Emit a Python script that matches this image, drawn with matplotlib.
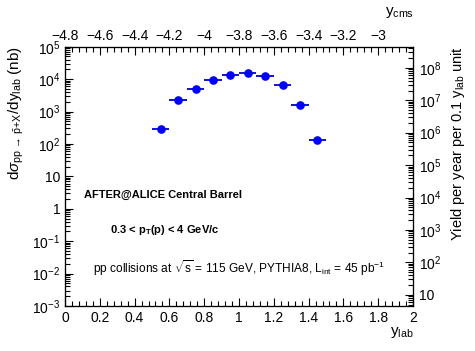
import matplotlib
matplotlib.use("Agg")
import matplotlib.pyplot as plt
from matplotlib.ticker import FixedLocator, MultipleLocator, FuncFormatter, NullFormatter
import numpy as np

plt.rcParams['font.family'] = ['Liberation Sans', 'DejaVu Sans']
plt.rcParams['mathtext.fontset'] = 'custom'
plt.rcParams['mathtext.rm'] = 'Liberation Sans'
plt.rcParams['mathtext.it'] = 'Liberation Sans:italic'
plt.rcParams['mathtext.bf'] = 'Liberation Sans:bold'
plt.rcParams['axes.unicode_minus'] = True

# data
y_lab = [0.55, 0.65, 0.75, 0.85, 0.95, 1.05, 1.15, 1.25, 1.35, 1.45]
dsigma = [280, 2200, 4800, 9400, 13000, 15000, 12800, 6500, 1600, 130]
bin_half = [0.05] * 10

y_shift = 4.8            # y_cms = y_lab - 4.8
lumi_factor = 4500.0     # 45 pb^-1 * 0.1 y_lab unit, in nb^-1

fig = plt.figure(figsize=(4.75, 3.51), dpi=100)
ax = fig.add_axes([65 / 475, 1 - 306 / 351, (413 - 65) / 475, (306 - 46.7) / 351])

ax.errorbar(y_lab, dsigma, xerr=bin_half, fmt='o', color='#0000ff', ecolor='#0000cc',
            markersize=5.2, elinewidth=1.3, capsize=0)
ax.set_yscale('log')
ax.set_xlim(0, 2)
ax.set_ylim(1e-3, 1e5)


def log_fmt(v, pos):
    n = int(round(np.log10(v)))
    if n == 0:
        return '1'
    if n == 1:
        return '10'
    return r'$10^{%d}$' % n


def log_minors(lo, hi):
    return [m * 10.0 ** e for e in range(lo, hi) for m in range(2, 10)]


tick_kw = dict(direction='in', labelsize=10)
ax.xaxis.set_major_locator(MultipleLocator(0.2))
ax.xaxis.set_minor_locator(MultipleLocator(0.04))
ax.xaxis.set_major_formatter(FuncFormatter(lambda v, p: ('%g' % round(v, 2))))
ax.yaxis.set_major_locator(FixedLocator([10.0 ** e for e in range(-3, 6)]))
ax.yaxis.set_minor_locator(FixedLocator(log_minors(-3, 5)))
ax.yaxis.set_major_formatter(FuncFormatter(log_fmt))
ax.yaxis.set_minor_formatter(NullFormatter())
ax.tick_params(which='major', length=6, width=0.8, pad=3.5, **tick_kw)
ax.tick_params(which='minor', length=3.5, width=0.8, direction='in')
ax.tick_params(which='both', top=False, right=False)

# top axis: y_cms
axt = ax.twiny()
axt.set_xlim(0 - y_shift, 2 - y_shift)
axt.xaxis.set_major_locator(MultipleLocator(0.2))
axt.xaxis.set_minor_locator(MultipleLocator(0.04))


def top_fmt(v, pos):
    v = round(v, 2)
    if v > -2.9:
        return ''
    return ('%g' % v).replace('-', '\u2212')


axt.xaxis.set_major_formatter(FuncFormatter(top_fmt))
axt.tick_params(which='major', length=6, width=0.8, pad=2.5, **tick_kw)
axt.tick_params(which='minor', length=3.5, width=0.8, direction='in')

# right axis: yield per year
axr = ax.twinx()
axr.set_yscale('log')
axr.set_ylim(1e-3 * lumi_factor, 1e5 * lumi_factor)
axr.yaxis.set_major_locator(FixedLocator([10.0 ** e for e in range(1, 9)]))
axr.yaxis.set_minor_locator(FixedLocator(log_minors(0, 9)))
axr.yaxis.set_major_formatter(FuncFormatter(log_fmt))
axr.yaxis.set_minor_formatter(NullFormatter())
axr.tick_params(which='major', length=6, width=0.8, pad=4, **tick_kw)
axr.tick_params(which='minor', length=3.5, width=0.8, direction='in')

# axis titles
fig.text(414 / 475, 1 - 325 / 351, r'y$_{\mathrm{lab}}$', ha='right', va='top', fontsize=11)
fig.text(414 / 475, 1 - 5 / 351, r'y$_{\mathrm{cms}}$', ha='right', va='top', fontsize=11)
fig.text(16 / 475, 1 - 46 / 351,
         r'd$\sigma_{\mathrm{pp}\,\rightarrow\,\bar{\mathrm{p}}\mathrm{+X}}$/dy$_{\mathrm{lab}}$ (nb)',
         rotation=90, ha='center', va='top', fontsize=11)
fig.text(458 / 475, 1 - 46 / 351, r'Yield per year per 0.1 y$_{\mathrm{lab}}$ unit',
         rotation=90, ha='center', va='top', fontsize=10.5)

# annotations
ax.text(84 / 475, 1 - 198 / 351, 'AFTER@ALICE Central Barrel', transform=fig.transFigure,
        fontsize=8, fontweight='bold', va='baseline')
ax.text(110 / 475, 1 - 233 / 351, r'0.3 < p$_{\mathbf{T}}$(p) < 4 GeV/c', transform=fig.transFigure,
        fontsize=8, fontweight='bold', va='baseline')
ax.text(93 / 475, 1 - 273 / 351,
        r'pp collisions at $\sqrt{\mathrm{s}}$ = 115 GeV, PYTHIA8, L$_{\mathrm{int}}$ = 45 pb$^{-1}$',
        transform=fig.transFigure, fontsize=8.6, va='baseline')

fig.savefig('out.png', dpi=100)
